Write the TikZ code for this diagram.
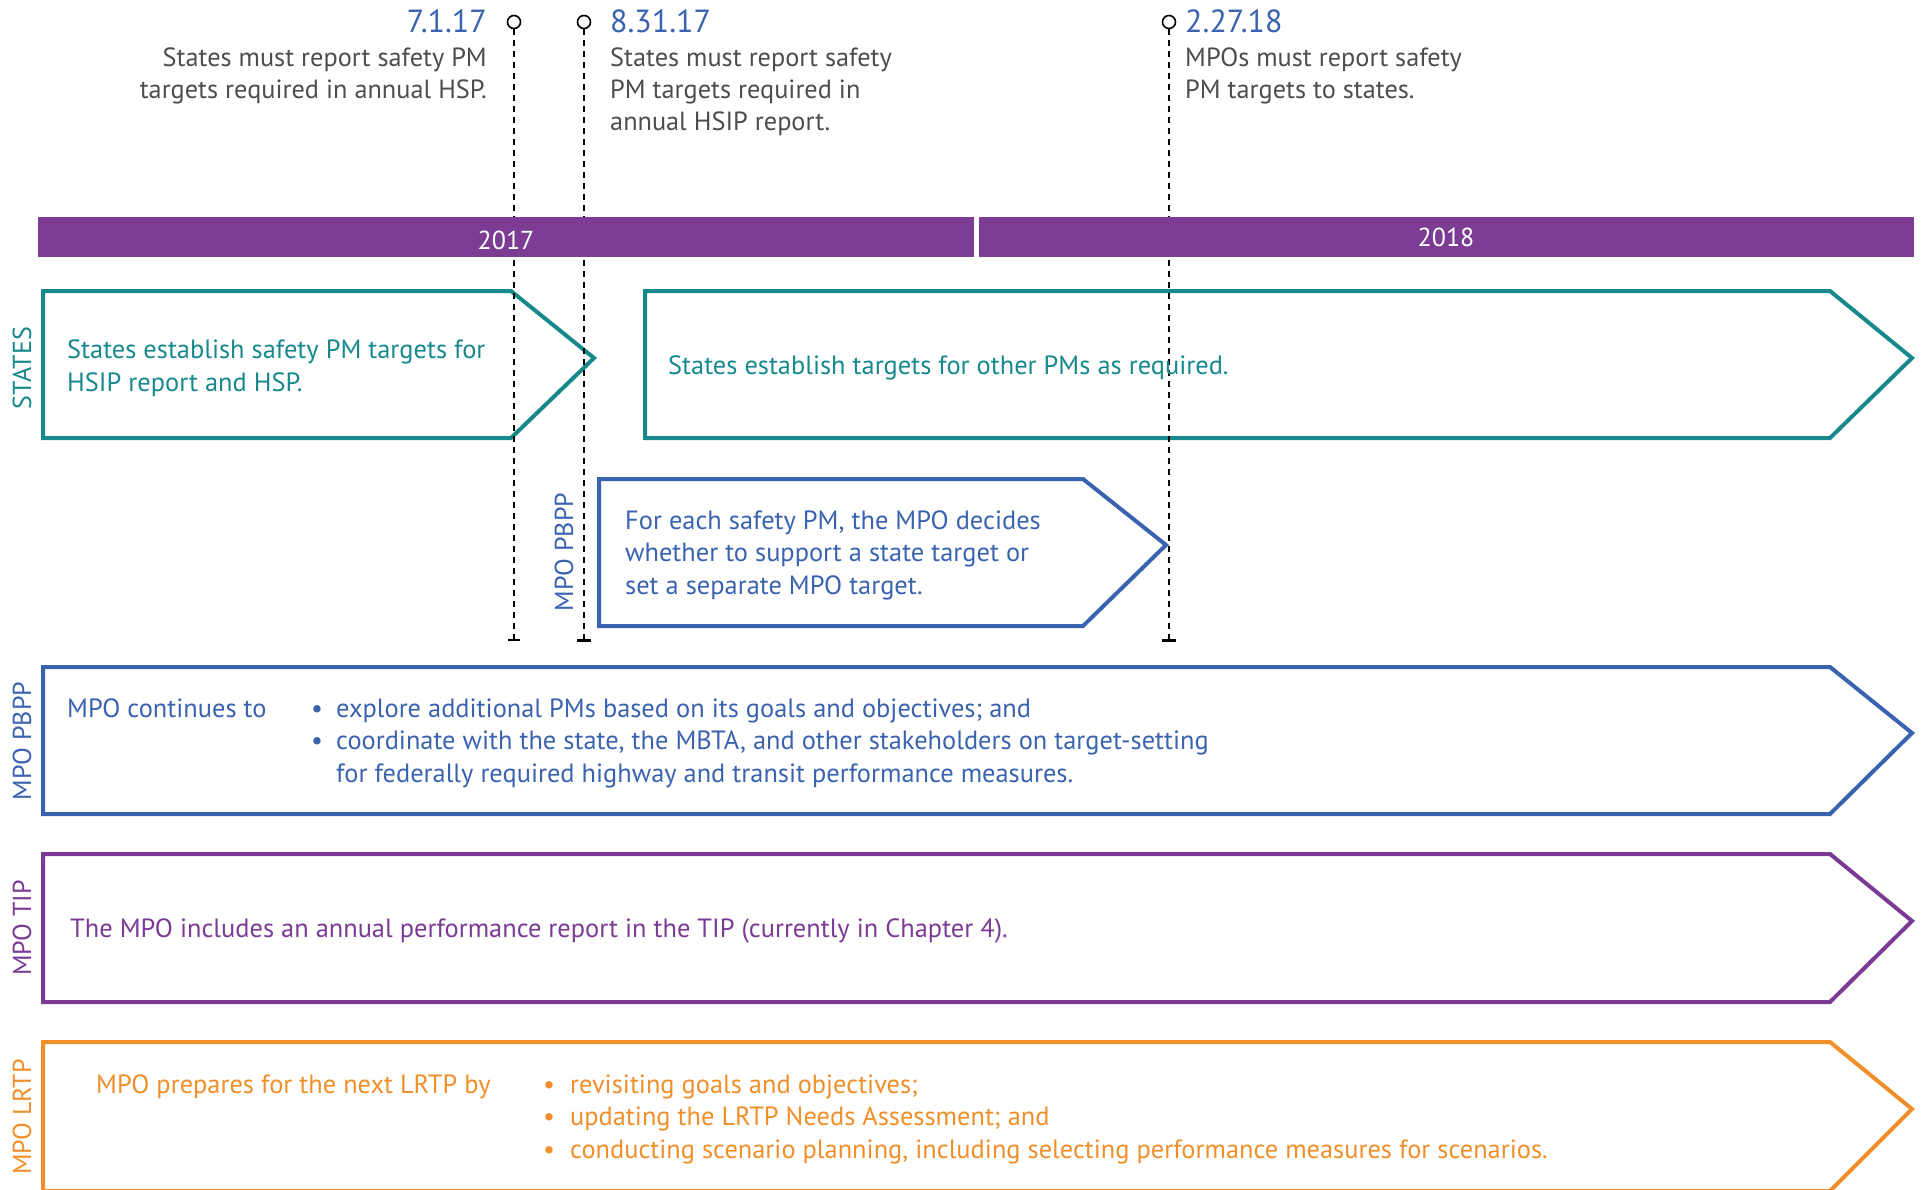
\documentclass[tikz,border=0pt]{standalone}
\usepackage{fontspec}
\setmainfont{PT Sans}
\definecolor{teal1}{HTML}{17898D}
\definecolor{blue1}{HTML}{3A63AF}
\definecolor{purp1}{HTML}{7B3B94}
\definecolor{orng1}{HTML}{F08F2A}
\definecolor{gray1}{HTML}{4D4D4D}
\definecolor{bar1}{HTML}{7D3C93}
\begin{document}
\begin{tikzpicture}[x=1pt,y=-1pt,
  box/.style={line width=4pt, line join=miter},
  body/.style={font=\fontsize{26.4}{32.5}\selectfont, inner sep=0pt, anchor=west, align=left},
  side/.style={font=\fontsize{26}{30}\selectfont, rotate=90, inner sep=0pt},
  datelbl/.style={font=\fontsize{32}{36}\selectfont, text=blue1, inner sep=0pt},
  note/.style={font=\fontsize{26.3}{32}\selectfont, text=gray1, inner sep=0pt},
  pin/.style={circle, draw=black, fill=white, line width=1.6pt, minimum size=13pt, inner sep=0pt},
  guide/.style={draw=black, line width=1.6pt, dash pattern=on 6pt off 5pt},
  yearbar/.style={fill=bar1, inner sep=0pt, anchor=north west, minimum height=40pt},
  yeartext/.style={text=white, inner sep=0pt, font=\fontsize{26}{30}\selectfont},
]
\useasboundingbox (0,0) rectangle (1925,1189);

% ---------- boxes ----------
\draw[box, teal1] (43,291) -- (511,291) -- (594,358) -- (511,438) -- (43,438) -- cycle;
\draw[box, teal1] (645,291) -- (1830,291) -- (1912,358) -- (1830,438) -- (645,438) -- cycle;
\draw[box, blue1] (599,479) -- (1083,479) -- (1166,545) -- (1083,626) -- (599,626) -- cycle;
\draw[box, blue1] (43,667) -- (1830,667) -- (1912,733) -- (1830,814) -- (43,814) -- cycle;
\draw[box, purp1] (43,854) -- (1830,854) -- (1912,921) -- (1830,1002) -- (43,1002) -- cycle;
\draw[box, orng1] (43,1042) -- (1830,1042) -- (1912,1109) -- (1830,1191) -- (43,1191) -- cycle;

% ---------- guides ----------
\node[pin] (p1) at (514,22) {};
\node[pin] (p2) at (584,22) {};
\node[pin] (p3) at (1169,22) {};
\coordinate (e1) at (514,640);
\coordinate (e2) at (584,640);
\coordinate (e3) at (1169,640);
\draw[guide] (p1.south) -- (e1);
\draw[guide] (p2.south) -- (e2);
\draw[guide] (p3.south) -- (e3);
\draw[line width=1.6pt] ([xshift=-6pt]e1) -- ([xshift=6pt]e1);
\draw[line width=3pt] ([xshift=-7pt]e2) -- ([xshift=7pt]e2);
\draw[line width=3pt] ([xshift=-7pt]e3) -- ([xshift=7pt]e3);

% ---------- year bar ----------
\node[yearbar, minimum width=936pt] (y17) at (38,217) {};
\node[yearbar, minimum width=935pt] (y18) at (979,217) {};
\node[yeartext] (y17t) at (506,240) {2017};
\node[yeartext] (y18t) at (1446,237) {2018};

% ---------- milestones ----------
\node[datelbl, anchor=base east] (d1) at (487,32) {7.1.17};
\node[datelbl, anchor=base west] (d2) at (610,32) {8.31.17};
\node[datelbl, anchor=base west] (d3) at (1185,32) {2.27.18};
\node[note, anchor=base east] (n1) at (487,66) {\begin{tabular}[t]{@{}r@{}}States must report safety PM\\targets required in annual HSP.\end{tabular}};
\node[note, anchor=base west] (n2) at (610,66) {\begin{tabular}[t]{@{}l@{}}States must report safety\\PM targets required in\\annual HSIP report.\end{tabular}};
\node[note, anchor=base west] (n3) at (1185,66) {\begin{tabular}[t]{@{}l@{}}MPOs must report safety\\PM targets to states.\end{tabular}};

% ---------- side labels ----------
\node[side, text=teal1] (l1) at (22,368) {STATES};
\node[side, text=blue1] (l2) at (564,552) {MPO PBPP};
\node[side, text=blue1] (l3) at (22,741) {MPO PBPP};
\node[side, text=purp1] (l4) at (22,928) {MPO TIP};
\node[side, text=orng1] (l5) at (22,1117) {MPO LRTP};

% ---------- box texts ----------
\node[body, text=teal1] (t1) at (67,368) {States establish safety PM targets for\\HSIP report and HSP.};
\node[body, text=teal1] (t2) at (668,368) {States establish targets for other PMs as required.};
\node[body, text=blue1] (t3) at (625,555) {For each safety PM, the MPO decides\\whether to support a state target or\\set a separate MPO target.};
\node[body, text=blue1] (t4) at (67,743) {\begin{tabular}{@{}p{244pt}@{}p{25pt}@{}l@{}}
MPO continues to & \textbullet & explore additional PMs based on its goals and objectives; and\\
 & \textbullet & coordinate with the state, the MBTA, and other stakeholders on target-setting\\
 & & for federally required highway and transit performance measures.
\end{tabular}};
\node[body, text=purp1] (t5) at (70,931) {The MPO includes an annual performance report in the TIP (currently in Chapter 4).};
\node[body, text=orng1] (t6) at (96,1119) {\begin{tabular}{@{}p{447pt}@{}p{27pt}@{}l@{}}
MPO prepares for the next LRTP by & \textbullet & revisiting goals and objectives;\\
 & \textbullet & updating the LRTP Needs Assessment; and\\
 & \textbullet & conducting scenario planning, including selecting performance measures for scenarios.
\end{tabular}};
\end{tikzpicture}
\end{document}
